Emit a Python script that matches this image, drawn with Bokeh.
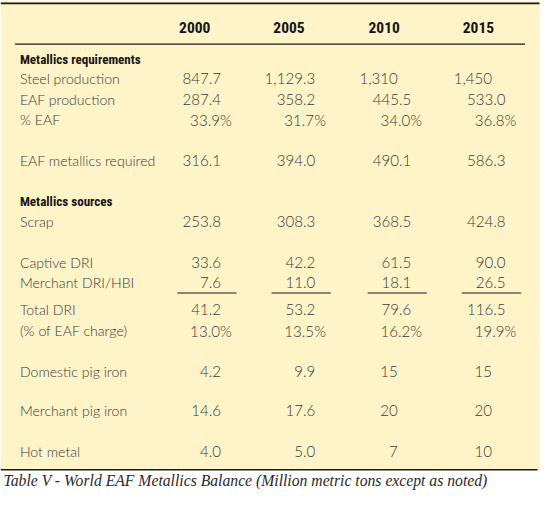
from bokeh.plotting import figure
from bokeh.models import Range1d
from bokeh.core.properties import value
from bokeh.embed import file_html
from bokeh.resources import INLINE

# ---------------- data ----------------
years = ["2000", "2005", "2010", "2015"]
section_titles = ["Metallics requirements", "Metallics sources"]
row_labels = ["Steel production", "EAF production", "% EAF", "EAF metallics required",
              "Scrap", "Captive DRI", "Merchant DRI/HBI", "Total DRI", "(% of EAF charge)",
              "Domestic pig iron", "Merchant pig iron", "Hot metal"]
steel_production = ["847.7", "1,129.3", "1,310", "1,450"]
eaf_production = ["287.4", "358.2", "445.5", "533.0"]
pct_eaf = ["33.9%", "31.7%", "34.0%", "36.8%"]
eaf_metallics_required = ["316.1", "394.0", "490.1", "586.3"]
scrap = ["253.8", "308.3", "368.5", "424.8"]
captive_dri = ["33.6", "42.2", "61.5", "90.0"]
merchant_dri_hbi = ["7.6", "11.0", "18.1", "26.5"]
total_dri = ["41.2", "53.2", "79.6", "116.5"]
pct_eaf_charge = ["13.0%", "13.5%", "16.2%", "19.9%"]
domestic_pig_iron = ["4.2", "9.9", "15", "15"]
merchant_pig_iron = ["14.6", "17.6", "20", "20"]
hot_metal = ["4.0", "5.0", "7", "10"]
caption = "Table V - World EAF Metallics Balance (Million metric tons except as noted)"

row_values = [steel_production, eaf_production, pct_eaf, eaf_metallics_required,
              scrap, captive_dri, merchant_dri_hbi, total_dri, pct_eaf_charge,
              domestic_pig_iron, merchant_pig_iron, hot_metal]

# ---------------- layout (reference pixel space 558 x 506) ----------------
REF_W, REF_H = 558, 506
W, H = 542, 490
S = W / REF_W
section_y = [61, 208]
row_y = [81, 102, 123, 165, 228, 271, 291, 319, 341, 383, 423, 466]
col_right = [227, 324, 423, 520]
head_x = [200, 297, 395, 492]
LABEL_X = 20

LABEL_FONT = value("'Lato Light', Lato, sans-serif")
BOLD_FONT = value("'Roboto Condensed', 'DejaVu Sans Condensed', sans-serif")
TEXT_COLOR = "#3a3a3a"

p = figure(width=W, height=H, x_range=Range1d(0, REF_W), y_range=Range1d(REF_H, 0),
           output_backend="svg", toolbar_location=None, min_border=0)
p.axis.visible = False
p.grid.visible = False
p.outline_line_color = None
p.background_fill_color = "white"
p.border_fill_color = "white"

# background panel
p.quad(left=[0], right=[555], top=[0], bottom=[484], fill_color="#FFF3C8", line_color=None)

# rules
p.segment(x0=[0], y0=[3], x1=[555], y1=[3], line_color="#1a1a1a", line_width=1.6)
p.segment(x0=[15], y0=[45], x1=[540], y1=[45], line_color="#1a1a1a", line_width=1.1)
p.segment(x0=[0], y0=[484.5], x1=[553], y1=[484.5], line_color="#1a1a1a", line_width=1.6)
p.segment(x0=[r - 45 for r in col_right], y0=[302] * 4,
          x1=[r + 16 for r in col_right], y1=[302] * 4, line_color="#1a1a1a", line_width=1.1)

# header years
p.text(x=head_x, y=[28] * 4, text=years, text_font=BOLD_FONT, text_font_style="bold",
       text_font_size=f"{16 * S:.1f}px", text_color="#151515",
       text_align="center", text_baseline="middle")

# section titles
p.text(x=[LABEL_X] * 2, y=section_y, text=section_titles, text_font=BOLD_FONT,
       text_font_style="bold", text_font_size=f"{13.5 * S:.1f}px", text_color="#151515",
       text_align="left", text_baseline="middle")

# row labels
p.text(x=[LABEL_X] * len(row_labels), y=row_y, text=row_labels, text_font=LABEL_FONT,
       text_font_size=f"{14.5 * S:.1f}px", text_color=TEXT_COLOR,
       text_align="left", text_baseline="middle")

# values: right aligned, integers aligned on the decimal position, percents shifted
xs, ys, ts = [], [], []
for vals, y in zip(row_values, row_y):
    for r, v in zip(col_right, vals):
        if v.endswith("%"):
            x = r + 11
        elif "." not in v:
            x = r - 14
        else:
            x = r
        xs.append(x)
        ys.append(y)
        ts.append(v)
p.text(x=xs, y=ys, text=ts, text_font=LABEL_FONT, text_font_size=f"{15.5 * S:.1f}px",
       text_color=TEXT_COLOR, text_align="right", text_baseline="middle")

# caption
p.text(x=[3], y=[496], text=[caption], text_font=value("Liberation Serif"),
       text_font_style="italic", text_font_size=f"{16.2 * S:.1f}px", text_color="#2a2a2a",
       text_align="left", text_baseline="middle")

open("out.html", "w").write(file_html(p, INLINE))
